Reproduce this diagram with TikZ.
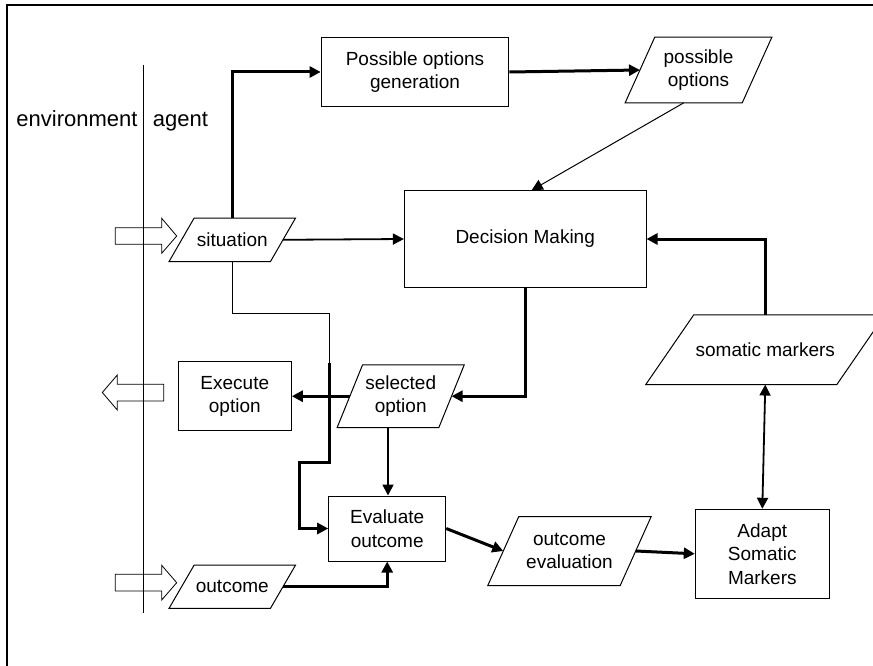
\documentclass[tikz,border=0pt]{standalone}
\usepackage{fontspec}
\setmainfont{Liberation Sans}
\usetikzlibrary{arrows.meta,calc}
\begin{document}
\begin{tikzpicture}[x=1pt,y=-1pt,
  >={Triangle[length=11pt,width=11pt]},
  txt/.style={font=\fontsize{19}{23.5}\selectfont, align=center},
  box/.style={txt, draw, line width=1pt, rectangle, inner sep=0pt},
  paraline/.style={line width=1pt},
  para/.style={txt, rectangle, inner sep=0pt,
    append after command={\pgfextra{\let\parnode\tikzlastnode
      \draw[paraline] ([xshift=#1/2]\parnode.north west) -- ([xshift=#1/2]\parnode.north east)
        -- ([xshift=-#1/2]\parnode.south east) -- ([xshift=-#1/2]\parnode.south west) -- cycle;}}},
  lbl/.style={font=\fontsize{22}{26}\selectfont, anchor=base, inner sep=0pt},
  thinc/.style={line width=1pt},
  medc/.style={line width=1.8pt},
  thickc/.style={line width=3pt},
  blockarrow/.style={draw, line width=0.8pt},
  frame/.style={draw, line width=1.5pt},
  divider/.style={draw, line width=0.9pt}
]
\useasboundingbox (0,0) rectangle (873,666);
\clip (0,0) rectangle (873,666);

% frame and divider
\draw[frame] (7,5) rectangle (900,700);
\draw[divider] (143.7,65) -- (143.7,613);
\node[lbl] (env) at (77,127) {environment};
\node[lbl] (agt) at (180.5,127) {agent};

% nodes
\node[box, minimum width=187.7pt, minimum height=69.4pt] (pog) at (415,72) {Possible options\\generation};
\node[para=29.7pt, minimum width=116.7pt, minimum height=65.4pt] (po) at (698.5,70) {possible\\options};
\node[box, minimum width=241.7pt, minimum height=96.6pt] (dm) at (525.2,239) {Decision Making};
\node[para=25pt, minimum width=101pt, minimum height=43pt] (sit) at (232.3,239.8) {situation};
\node[box, minimum width=113pt, minimum height=69pt] (exe) at (234.8,396.2) {Execute\\option};
\node[para=25.4pt, minimum width=101.3pt, minimum height=62.3pt] (sel) at (400.7,396.2) {selected\\option};
\node[box, minimum width=117pt, minimum height=65pt] (eva) at (387.2,528.5) {Evaluate\\outcome};
\node[para=25pt, minimum width=101pt, minimum height=42.7pt] (out) at (232.3,586.7) {outcome};
\node[para=31pt, minimum width=132pt, minimum height=68.6pt] (oe) at (569.5,551) {outcome\\evaluation};
\node[box, minimum width=134pt, minimum height=89pt] (ada) at (762.3,553.8) {Adapt\\Somatic\\Markers};
\node[para=48pt, minimum width=190.7pt, minimum height=69.3pt] (som) at (765.3,349.7) {somatic markers};

% block arrows (environment interface)
\draw[blockarrow] (115.3,227.7) -- (161.7,227.7) -- (161.7,218.3) -- (176.7,236) -- (161.7,253.3) -- (161.7,244.3) -- (115.3,244.3) -- cycle;
\draw[blockarrow] (163.7,384.3) -- (117.3,384.3) -- (117.3,375) -- (102.3,392.5) -- (117.3,410) -- (117.3,401) -- (163.7,401) -- cycle;
\draw[blockarrow] (115.3,574.3) -- (161.7,574.3) -- (161.7,565.3) -- (176.7,582.7) -- (161.7,600) -- (161.7,591) -- (115.3,591) -- cycle;

% connectors
\draw[thickc,->] (sit.north) |- (pog.west);
\draw[thickc,->] (pog.east) -- (po.west);
\draw[thinc,->] ([xshift=-14.85pt]po.south) -- ([xshift=6.5pt]dm.north);
\draw[medc,->] (sit.east) -- (dm.west);
\draw[thickc,->] (dm.south) |- (sel.east);
\draw[thickc,->] (som.north) |- (dm.east);
\draw[thickc,->] (sel.west) -- (exe.east);
\coordinate (selb) at ([xshift=-12.7pt]sel.south);
\draw[medc,->] (selb) -- (selb |- eva.north);
\coordinate (c1) at (329.5,313.3);
\coordinate (c2) at (329.5,363);
\coordinate (c3) at (299.7,462.7);
\draw[thinc] (sit.south) |- (c1) -- (c2);
\draw[thickc,->] (c2) |- (c3) |- (eva.west);
\draw[thickc,->] (out.east) -| (eva.south);
\draw[thickc,->] (eva.east) -- (oe.west);
\draw[thickc,->] (oe.east) -- (ada.west);
\draw[medc,<->] (som.south) -- (ada.north);
\end{tikzpicture}
\end{document}
